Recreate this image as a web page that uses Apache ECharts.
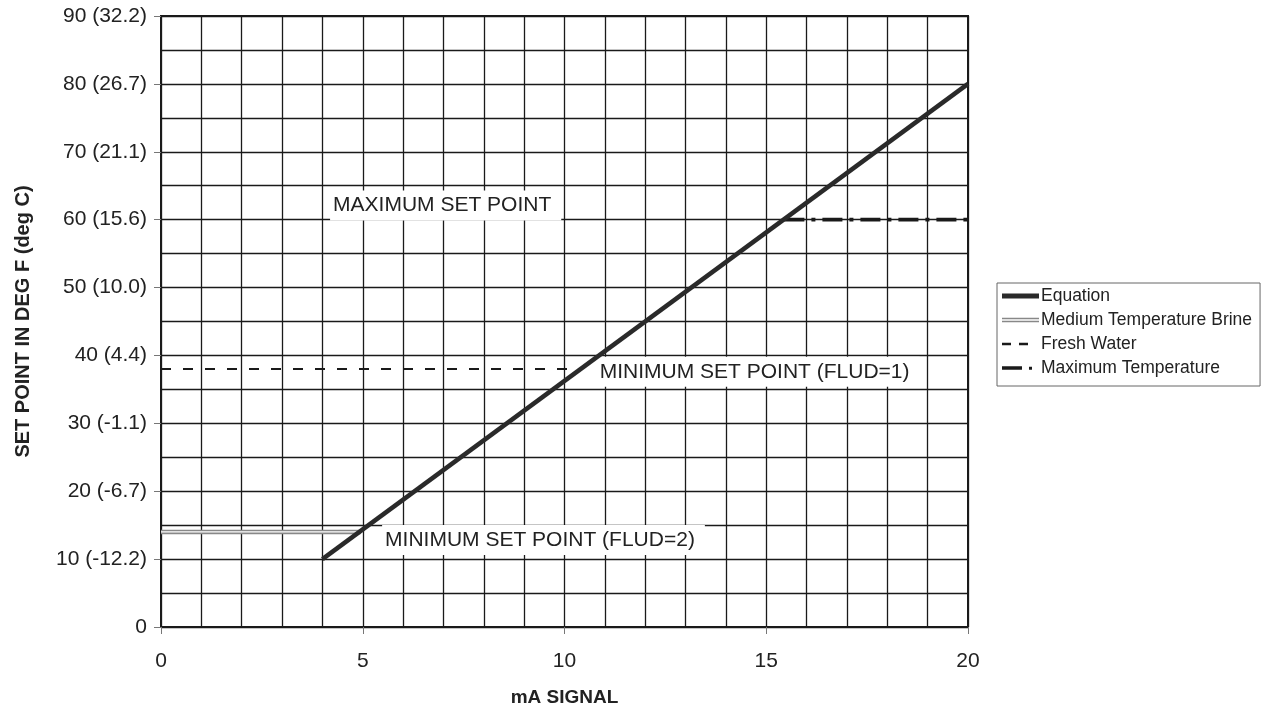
<!DOCTYPE html>
<html>
<head>
<meta charset="utf-8">
<script src="https://cdn.jsdelivr.net/npm/echarts@6/dist/echarts.min.js"></script>
<style>
  html, body { margin: 0; padding: 0; background: #fff; }
  #chart { width: 1264px; height: 704px; }
</style>
</head>
<body>
<div id="chart"></div>
<script>
// data (x = mA, y = deg F)
var equation = [[4, 10], [20, 80]];
var brine = [[0, 14], [4.95, 14]];
var freshWater = [[0, 38], [10.3, 38]];
var maxTemp = [[15.45, 60], [20, 60]];
var yTicks = [0, 10, 20, 30, 40, 50, 60, 70, 80, 90];
var yTickLabels = ["0", "10 (-12.2)", "20 (-6.7)", "30 (-1.1)", "40 (4.4)", "50 (10.0)",
  "60 (15.6)", "70 (21.1)", "80 (26.7)", "90 (32.2)"];
var notes = [
  { name: "MAXIMUM SET POINT", value: [4.19, 62.1] },
  { name: "MINIMUM SET POINT (FLUD=1)", value: [10.8, 37.6] },
  { name: "MINIMUM SET POINT (FLUD=2)", value: [5.48, 12.8] }
];

var font = "'Liberation Sans', Arial, sans-serif";
var ink = "#222";
var gridLine = { show: true, lineStyle: { color: "#1a1a1a", width: 1.3 } };

var chart = echarts.init(document.getElementById("chart"));
var option = {
  animation: false,
  textStyle: { fontFamily: font, color: ink },
  grid: {
    left: 161, top: 16, width: 807, height: 611,
    outerBoundsMode: "none",
    show: true, borderColor: "#1a1a1a", borderWidth: 2
  },
  legend: {
    orient: "vertical",
    left: 997,
    top: 283,
    padding: [4, 8, 9, 5],
    itemGap: 6,
    itemWidth: 37,
    itemHeight: 16,
    borderColor: "#666",
    borderWidth: 1,
    textStyle: { fontFamily: font, fontSize: 17.5, color: ink, padding: [0, 0, 0, -3] },
    data: [
      { name: "Equation", icon: "path://M0,0H37V5H0Z", itemStyle: { color: "#2a2a2a" } },
      { name: "Medium Temperature Brine", icon: "path://M0,0H37V1.3H0ZM0,3H37V4.3H0Z", itemStyle: { color: "#888" } },
      { name: "Fresh Water", icon: "path://M0,0H9V2.5H0ZM17,0H26V2.5H17ZM37,0H37.01V0.01H37Z", itemStyle: { color: "#1a1a1a" } },
      { name: "Maximum Temperature", icon: "path://M0,0H20V3.5H0ZM27,0.5H30V3.5H27ZM37,0H37.01V0.01H37Z", itemStyle: { color: "#1a1a1a" } }
    ]
  },
  xAxis: {
    type: "value",
    min: 0,
    max: 20,
    interval: 5,
    name: "mA SIGNAL",
    nameLocation: "middle",
    nameGap: 61,
    nameTextStyle: { fontFamily: font, fontSize: 19, fontWeight: "bold", color: ink },
    axisLine: { show: true, lineStyle: { color: "#1a1a1a", width: 2 } },
    axisTick: { show: true, length: 7, lineStyle: { color: "#777" } },
    axisLabel: { fontSize: 21, color: ink, margin: 24 },
    minorTick: { show: false, splitNumber: 5 },
    splitLine: gridLine,
    minorSplitLine: gridLine
  },
  yAxis: {
    type: "value",
    min: 0,
    max: 90,
    interval: 10,
    name: "SET POINT IN DEG F (deg C)",
    nameLocation: "middle",
    nameGap: 128,
    nameTextStyle: { fontFamily: font, fontSize: 20, fontWeight: "bold", color: ink },
    axisLine: { show: true, lineStyle: { color: "#1a1a1a", width: 2 } },
    axisTick: { show: true, length: 7, lineStyle: { color: "#777" } },
    axisLabel: {
      fontSize: 21, color: ink, margin: 14,
      formatter: function (v) { return yTickLabels[yTicks.indexOf(v)]; }
    },
    minorTick: { show: false, splitNumber: 2 },
    splitLine: gridLine,
    minorSplitLine: gridLine
  },
  series: [
    {
      name: "notes",
      type: "scatter",
      data: notes,
      symbolSize: 0,
      silent: true,
      itemStyle: { opacity: 1 },
      label: {
        show: true,
        position: "right",
        distance: 0,
        opacity: 1,
        fontFamily: font,
        fontSize: 21,
        lineHeight: 24,
        color: ink,
        backgroundColor: "#fff",
        padding: [3, 10, 3, 3],
        formatter: function (p) { return p.name; }
      },
      z: 2
    },
    {
      name: "Medium Temperature Brine",
      type: "line",
      data: brine,
      symbol: "none",
      color: "#888",
      lineStyle: { color: "#888", width: 4.5 },
      z: 3
    },
    {
      name: "brine-core",
      type: "line",
      data: brine,
      symbol: "none",
      lineStyle: { color: "#fff", width: 1.3 },
      z: 4
    },
    {
      name: "Fresh Water",
      type: "line",
      data: freshWater,
      symbol: "none",
      color: "#1a1a1a",
      lineStyle: { color: "#1a1a1a", width: 2.2, type: [10, 12] },
      z: 3
    },
    {
      name: "Maximum Temperature",
      type: "line",
      data: maxTemp,
      symbol: "none",
      color: "#1a1a1a",
      lineStyle: { color: "#1a1a1a", width: 3.6, type: [20, 7, 4, 7] },
      z: 3
    },
    {
      name: "Equation",
      type: "line",
      data: equation,
      symbol: "none",
      color: "#2a2a2a",
      lineStyle: { color: "#2a2a2a", width: 4.5 },
      z: 5
    }
  ]
};
chart.setOption(option);
</script>
</body>
</html>
